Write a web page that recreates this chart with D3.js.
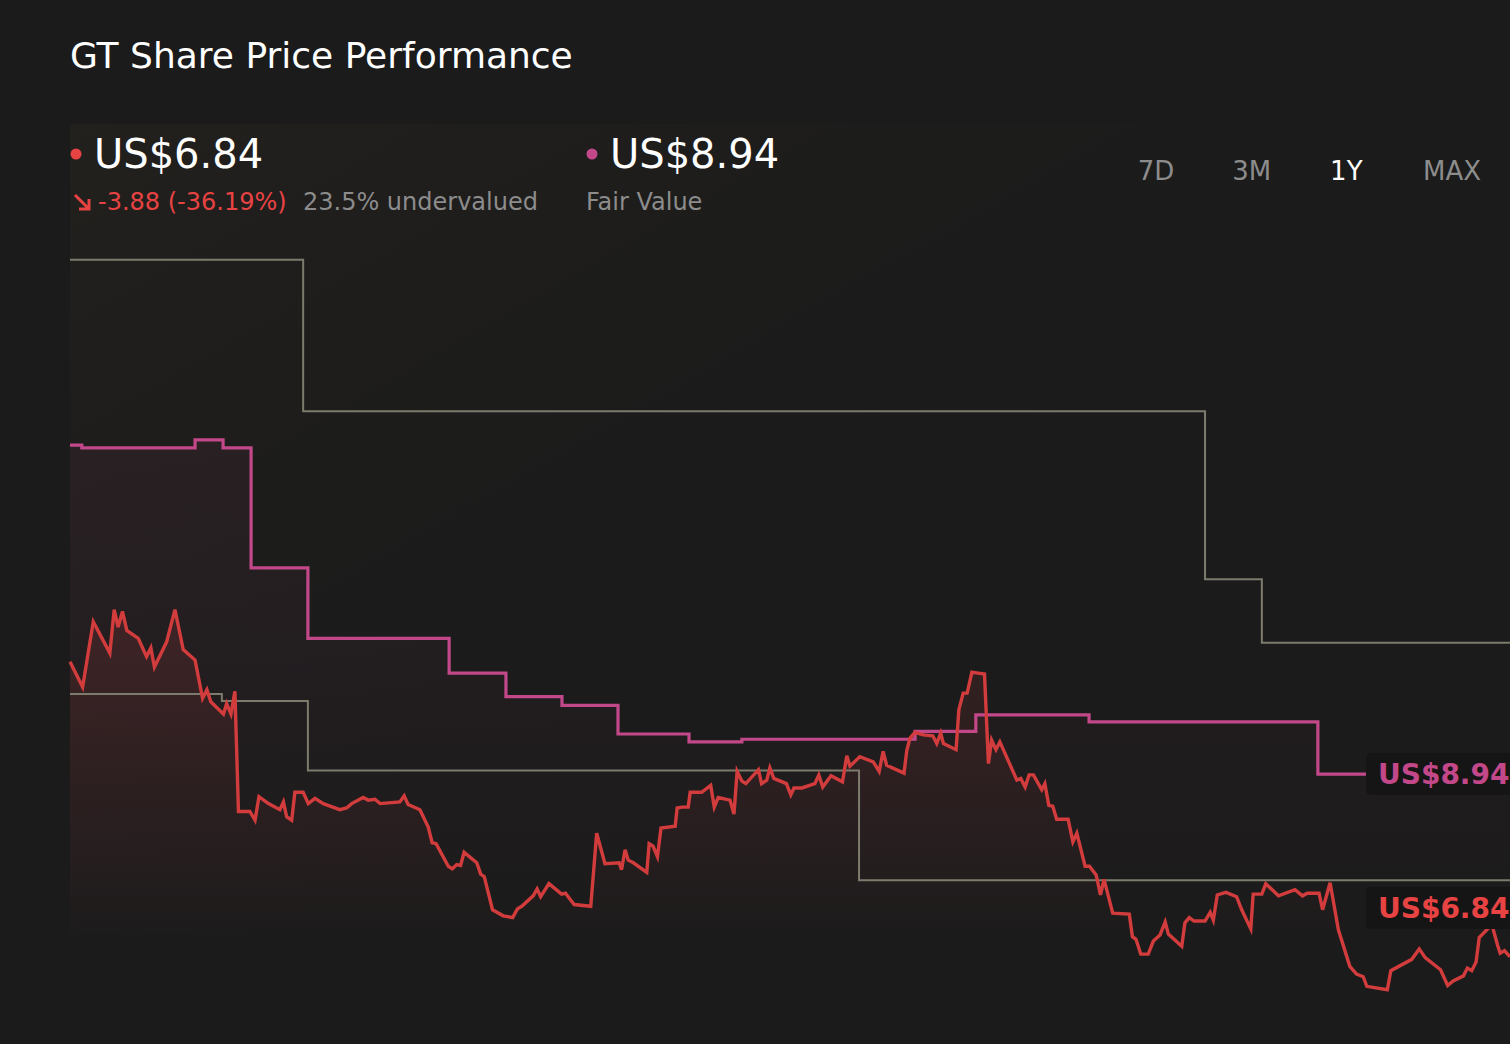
<!DOCTYPE html>
<html>
<head>
<meta charset="utf-8">
<script src="https://d3js.org/d3.v7.min.js"></script>
<style>
  html, body { margin: 0; padding: 0; background: #1b1b1b; overflow: hidden; }
  svg { display: block; font-family: "DejaVu Sans", sans-serif; }
</style>
</head>
<body>
<script>
// price, days since start of the 1Y window
const priceDays = [0, 3.2, 5.9, 10.1, 11.2, 12.2, 13.3, 14.4, 17.3, 19.4, 20.5, 21.4, 24.5, 26.6, 28.7, 31.7,
  33.6, 34.7, 35.7, 38.9, 39.7, 40.8, 41.8, 42.7, 45.6, 46.9, 47.9, 50.3, 53.2, 54.1, 54.9, 56.2, 57.0, 59.1,
  60.4, 62.1, 64.2, 68.4, 70.1, 71.4, 74.3, 75.6, 77.3, 78.6, 83.6, 84.7, 85.7, 88.7, 90.8, 91.8, 92.8, 95.9,
  96.9, 98.0, 99.0, 99.9, 103.1, 104.1, 105.0, 107.1, 109.8, 112.2, 113.4, 114.5, 117.4, 118.4, 119.3, 121.4,
  124.6, 125.6, 126.6, 127.8, 132.0, 133.5, 135.6, 139.2, 139.8, 140.7, 141.5, 142.8, 146.2, 146.8, 147.8,
  148.9, 149.8, 153.4, 153.9, 155.1, 156.7, 157.2, 160.1, 162.4, 163.3, 164.3, 167.3, 168.3, 169.1, 170.3,
  171.3, 174.5, 175.3, 176.6, 177.4, 178.4, 181.6, 182.7, 183.5, 185.5, 188.8, 189.8, 190.8, 192.9, 195.8,
  196.9, 197.7, 200.2, 203.6, 205.1, 206.1, 207.0, 211.4, 212.1, 212.9, 214.2, 216.3, 218.7, 219.7, 220.7,
  221.4, 224.6, 225.3, 226.4, 227.4, 228.6, 230.2, 231.8, 232.8, 233.6, 234.7, 235.7, 240.0, 241.0, 242.1,
  243.1, 244.2, 246.3, 247.1, 248.1, 249.1, 250.1, 253.0, 254.2, 255.2, 257.3, 258.4, 260.1, 261.2, 262.1,
  264.3, 268.5, 269.3, 270.2, 271.4, 273.3, 274.6, 276.3, 277.6, 278.4, 281.8, 282.6, 283.7, 284.9, 287.7,
  289.0, 289.8, 290.8, 293.0, 295.7, 297.0, 299.3, 299.9, 302.1, 303.1, 306.3, 310.5, 312.4, 313.6, 316.6,
  317.5, 319.4, 321.5, 324.4, 326.1, 327.8, 328.7, 333.9, 334.8, 340.1, 342.0, 343.5, 347.4, 349.2, 350.5,
  353.2, 354.2, 355.3, 356.4, 357.2, 360.4, 361.8, 362.5, 363.6, 365];
const priceValues = [10.23, 9.94, 10.69, 10.33, 10.83, 10.63, 10.81, 10.59, 10.50, 10.29, 10.39, 10.17, 10.46,
  10.83, 10.37, 10.25, 9.81, 9.91, 9.77, 9.63, 9.75, 9.63, 9.89, 8.51, 8.51, 8.41, 8.68, 8.60, 8.53, 8.62,
  8.45, 8.41, 8.73, 8.73, 8.60, 8.66, 8.60, 8.53, 8.55, 8.60, 8.67, 8.64, 8.65, 8.60, 8.62, 8.69, 8.59, 8.53,
  8.33, 8.15, 8.14, 7.88, 7.85, 7.90, 7.89, 8.04, 7.92, 7.79, 7.76, 7.38, 7.31, 7.29, 7.39, 7.42, 7.54, 7.62,
  7.53, 7.68, 7.56, 7.57, 7.51, 7.44, 7.42, 8.26, 7.91, 7.92, 7.84, 8.07, 7.95, 7.92, 7.81, 8.14, 8.11, 7.99,
  8.32, 8.34, 8.55, 8.56, 8.56, 8.73, 8.73, 8.81, 8.56, 8.67, 8.64, 8.48, 8.97, 8.86, 8.83, 8.99, 8.83, 8.87,
  9.01, 8.89, 8.83, 8.70, 8.78, 8.78, 8.83, 8.93, 8.79, 8.92, 8.85, 9.15, 9.03, 9.14, 9.08, 8.97, 9.20, 9.04,
  8.95, 9.21, 9.35, 9.42, 9.39, 9.38, 9.29, 9.41, 9.29, 9.22, 9.68, 9.87, 9.87, 10.11, 10.10, 10.09, 9.06,
  9.33, 9.22, 9.31, 8.87, 8.89, 8.79, 8.93, 8.93, 8.76, 8.83, 8.58, 8.57, 8.42, 8.42, 8.16, 8.26, 7.88, 7.88,
  7.78, 7.55, 7.73, 7.34, 7.33, 7.07, 7.04, 6.87, 6.87, 7.02, 7.09, 7.24, 7.10, 6.96, 7.23, 7.29, 7.25, 7.25,
  7.35, 7.26, 7.55, 7.58, 7.53, 7.38, 7.16, 7.56, 7.56, 7.68, 7.54, 7.61, 7.54, 7.57, 7.57, 7.38, 7.69, 7.15,
  6.73, 6.64, 6.61, 6.50, 6.46, 6.68, 6.81, 6.93, 6.83, 6.69, 6.51, 6.56, 6.62, 6.71, 6.68, 6.78, 7.06, 7.21,
  6.98, 6.88, 6.91, 6.84];

// fair value steps
const fairDays = [0, 3.0, 31.7, 38.8, 45.9, 60.3, 96.1, 110.5, 124.7, 138.9, 156.9, 170.3, 214.2, 229.6, 258.3, 316.3, 365];
const fairValues = [12.72, 12.69, 12.78, 12.69, 11.31, 10.50, 10.10, 9.83, 9.73, 9.40, 9.31, 9.34, 9.43, 9.62, 9.54, 8.94, 8.94];

// grey reference steps
const upperDays = [0, 59.1, 287.7, 302.1, 365];
const upperValues = [14.85, 13.11, 11.18, 10.45, 10.45];
const lowerDays = [0, 38.5, 60.3, 200.0, 365];
const lowerValues = [9.86, 9.78, 8.98, 7.72, 7.72];

const ranges = ["7D", "3M", "1Y", "MAX"];
const activeRange = "1Y";
const lastPrice = 6.84, fairValue = 8.94;

const W = 1510, H = 1044;
const RED = "#d23c3c", RED_TXT = "#e84343", PINK = "#c2488a", GREY = "#7d7b6c";

const svg = d3.select("body").append("svg").attr("width", W).attr("height", H);

const x = d3.scaleLinear().domain([0, 365]).range([70, 1510]);
const y = d3.scaleLinear().domain([5.837, 17.837]).range([1044, 0]);

const defs = svg.append("defs");
const bgGrad = defs.append("linearGradient").attr("id", "bgGrad")
  .attr("x1", "0").attr("y1", "0").attr("x2", "0.6").attr("y2", "0.6");
bgGrad.append("stop").attr("offset", "0").attr("stop-color", "#4a3f2a").attr("stop-opacity", 0.15);
bgGrad.append("stop").attr("offset", "1").attr("stop-color", "#1b1b1b").attr("stop-opacity", 0);

function areaGrad(id, color, top, op) {
  const g = defs.append("linearGradient").attr("id", id)
    .attr("gradientUnits", "userSpaceOnUse").attr("x1", 0).attr("x2", 0).attr("y1", top).attr("y2", 950);
  g.append("stop").attr("offset", "0").attr("stop-color", color).attr("stop-opacity", op);
  g.append("stop").attr("offset", "1").attr("stop-color", color).attr("stop-opacity", 0);
}
areaGrad("priceGrad", "#c84040", 600, 0.17);
areaGrad("fairGrad", "#c2488a", 440, 0.07);

svg.append("rect").attr("width", W).attr("height", H).attr("fill", "#1b1b1b");
svg.append("rect").attr("x", 70).attr("y", 124).attr("width", W - 70).attr("height", 830).attr("fill", "url(#bgGrad)");

const priceData = priceDays.map((d, i) => [d, priceValues[i]]);
const fairData = fairDays.map((d, i) => [d, fairValues[i]]);
const upperData = upperDays.map((d, i) => [d, upperValues[i]]);
const lowerData = lowerDays.map((d, i) => [d, lowerValues[i]]);
const bottom = 950;

svg.append("path").datum(fairData)
  .attr("d", d3.area().curve(d3.curveStepAfter).x(d => x(d[0])).y0(bottom).y1(d => y(d[1])))
  .attr("fill", "url(#fairGrad)");
svg.append("path").datum(priceData)
  .attr("d", d3.area().x(d => x(d[0])).y0(bottom).y1(d => y(d[1])))
  .attr("fill", "url(#priceGrad)");

const stepLine = d3.line().curve(d3.curveStepAfter).x(d => x(d[0])).y(d => y(d[1]));
svg.append("path").datum(upperData).attr("d", stepLine).attr("fill", "none").attr("stroke", GREY).attr("stroke-width", 2);
svg.append("path").datum(lowerData).attr("d", stepLine).attr("fill", "none").attr("stroke", GREY).attr("stroke-width", 2);

svg.append("path").datum(fairData).attr("d", stepLine)
  .attr("fill", "none").attr("stroke", PINK).attr("stroke-width", 3.2);
svg.append("path").datum(priceData)
  .attr("d", d3.line().x(d => x(d[0])).y(d => y(d[1])))
  .attr("fill", "none").attr("stroke", RED).attr("stroke-width", 3.4).attr("stroke-linejoin", "miter");

// end labels
function endLabel(val, cy, color) {
  const g = svg.append("g");
  g.append("rect").attr("x", 1366).attr("y", cy - 21).attr("width", 170).attr("height", 42)
    .attr("rx", 5).attr("fill", "#161515");
  g.append("text").attr("x", 1378).attr("y", cy).attr("dy", "0.36em")
    .attr("fill", color).attr("font-size", 28).attr("font-weight", "bold")
    .text("US$" + val.toFixed(2));
}
endLabel(fairValue, y(fairValue), PINK);
endLabel(lastPrice, Math.min(y(lastPrice), 908), RED_TXT);

// header
svg.append("text").attr("x", 70).attr("y", 68).attr("fill", "#ffffff").attr("font-size", 36)
  .text("GT Share Price Performance");

svg.append("circle").attr("cx", 76).attr("cy", 154).attr("r", 5.5).attr("fill", RED_TXT);
svg.append("text").attr("x", 94).attr("y", 168).attr("fill", "#ffffff").attr("font-size", 40)
  .text("US$" + lastPrice.toFixed(2));
svg.append("path").attr("d", "M75,195 L89,209 M89,199 L89,209 L79,209")
  .attr("fill", "none").attr("stroke", RED_TXT).attr("stroke-width", 3);
svg.append("text").attr("x", 98).attr("y", 210).attr("fill", RED_TXT).attr("font-size", 24)
  .text("-3.88 (-36.19%)");
svg.append("text").attr("x", 303).attr("y", 210).attr("fill", "#8c8c8c").attr("font-size", 24)
  .text("23.5% undervalued");

svg.append("circle").attr("cx", 592).attr("cy", 154).attr("r", 5.5).attr("fill", PINK);
svg.append("text").attr("x", 610).attr("y", 168).attr("fill", "#ffffff").attr("font-size", 40)
  .text("US$" + fairValue.toFixed(2));
svg.append("text").attr("x", 586).attr("y", 210).attr("fill", "#8c8c8c").attr("font-size", 24)
  .text("Fair Value");

const rangeX = d3.scalePoint().domain(ranges).range([1156, 1452]);
svg.selectAll(".range").data(ranges).enter().append("text")
  .attr("x", d => rangeX(d) + (d === "1Y" ? -7 : d === "3M" ? -3 : 0)).attr("y", 180).attr("text-anchor", "middle")
  .attr("font-size", 26).attr("fill", d => d === activeRange ? "#ffffff" : "#8c8c8c")
  .text(d => d);
</script>
</body>
</html>
